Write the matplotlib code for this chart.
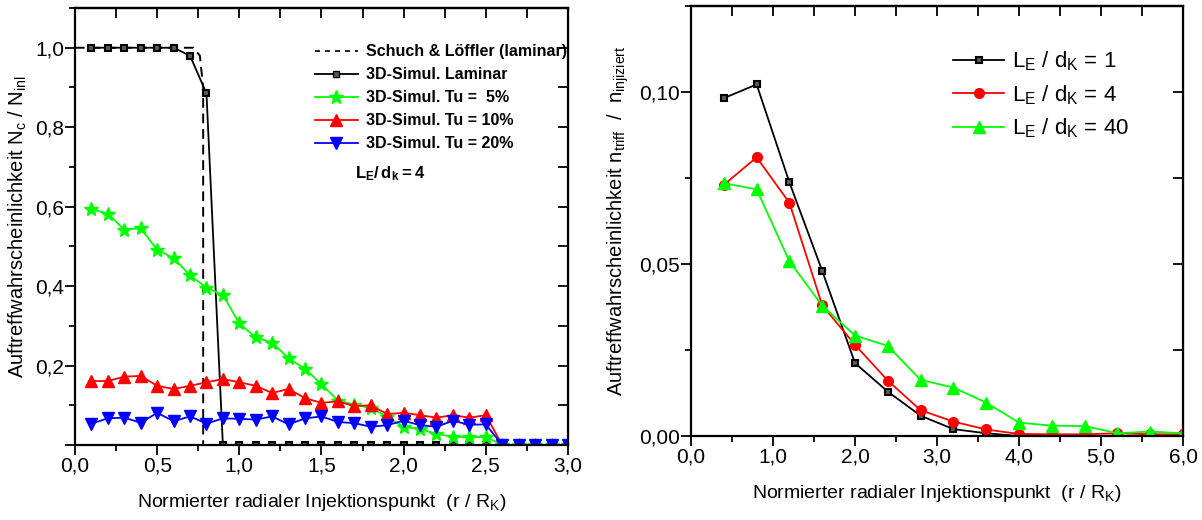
import matplotlib
matplotlib.use('Agg')
import matplotlib.pyplot as plt
from matplotlib.ticker import MultipleLocator
from matplotlib.lines import Line2D

plt.rcParams['font.family'] = ['Liberation Sans', 'DejaVu Sans']
plt.rcParams['mathtext.fontset'] = 'custom'
plt.rcParams['mathtext.rm'] = 'Liberation Sans'
plt.rcParams['mathtext.bf'] = 'Liberation Sans:bold'

# ---- left panel data (r / R_K) ----
xLeft = [round(0.1 * i, 1) for i in range(1, 31)]
laminar = [1.0, 1.0, 1.0, 1.0, 1.0, 1.0, 0.98, 0.885] + [0.0] * 22
tu5 = [0.594, 0.582, 0.542, 0.546, 0.491, 0.471, 0.427, 0.396, 0.378, 0.306,
       0.271, 0.258, 0.218, 0.192, 0.153, 0.112, 0.101, 0.094, 0.071, 0.046,
       0.040, 0.028, 0.021, 0.019, 0.021, 0.0, 0.0, 0.0, 0.0, 0.0]
tu10 = [0.161, 0.161, 0.172, 0.174, 0.149, 0.141, 0.149, 0.158, 0.166, 0.158,
        0.149, 0.131, 0.141, 0.118, 0.106, 0.110, 0.098, 0.100, 0.078, 0.081,
        0.075, 0.069, 0.075, 0.069, 0.075, 0.0, 0.0, 0.0, 0.0, 0.0]
tu20 = [0.054, 0.067, 0.069, 0.056, 0.081, 0.060, 0.072, 0.054, 0.067, 0.066,
        0.064, 0.072, 0.052, 0.067, 0.072, 0.058, 0.055, 0.046, 0.050, 0.061,
        0.050, 0.046, 0.061, 0.051, 0.052, 0.0, 0.0, 0.0, 0.0, 0.0]
schuchX = [0.0, 0.72, 0.76, 0.78, 0.78]
schuchY = [1.0, 1.0, 0.98, 0.9, 0.0]

# ---- right panel data ----
xRight = [0.4, 0.8, 1.2, 1.6, 2.0, 2.4, 2.8, 3.2, 3.6, 4.0, 4.4, 4.8, 5.2, 5.6, 6.0]
le1 = [0.0982, 0.1022, 0.0737, 0.0480, 0.0212, 0.0129, 0.0059, 0.0020, 0.0008,
       0.0, 0.0, 0.0, 0.0, 0.0, 0.0]
le4 = [0.0730, 0.0810, 0.0678, 0.0380, 0.0265, 0.0161, 0.0075, 0.0042, 0.0019,
       0.0006, 0.0005, 0.0005, 0.0008, 0.0005, 0.0005]
le40 = [0.0735, 0.0717, 0.0508, 0.0379, 0.0292, 0.0262, 0.0163, 0.0141, 0.0097,
        0.0039, 0.0030, 0.0029, 0.0008, 0.0013, 0.0008]

GREEN = '#00ff00'
RED = '#ff0000'
BLUE = '#0000ff'

fig = plt.figure(figsize=(12.02, 5.2), dpi=100)
ax1 = fig.add_axes([0.0624, 0.1442, 0.4101, 0.8404])
ax2 = fig.add_axes([0.5749, 0.1615, 0.4093, 0.8270])


def style_axes(ax):
    for s in ax.spines.values():
        s.set_linewidth(1.6)
    ax.tick_params(which='both', direction='out', top=False, right=False, width=1.3)
    ax.tick_params(which='major', length=7, labelsize=15, pad=1)
    ax.tick_params(which='minor', length=4)
    sec = ax.secondary_xaxis('top')
    sec.tick_params(which='both', direction='in', labeltop=False, width=1.3)
    sec.tick_params(which='major', length=7)
    sec.tick_params(which='minor', length=7)
    sec.spines['top'].set_linewidth(1.6)
    return sec


# left
sec1 = style_axes(ax1)
ax1.plot(schuchX, schuchY, '--', color='black', lw=1.4, dashes=(5, 3))
ax1.plot(xLeft, laminar, '-', color='black', lw=1.3, marker='s', ms=5,
         mfc='0.35', mec='black', mew=1.5)
ax1.plot(xLeft, tu5, '-', color=GREEN, lw=1.3, marker='*', ms=10, mec=GREEN)
ax1.plot(xLeft, tu10, '-', color=RED, lw=1.3, marker='^', ms=9, mec=RED)
ax1.plot(xLeft, tu20, '-', color=BLUE, lw=1.3, marker='v', ms=9, mec=BLUE)
ax1.set_xlim(0, 3.0)
ax1.set_ylim(0, 1.1)
ax1.xaxis.set_major_locator(MultipleLocator(0.5))
ax1.xaxis.set_minor_locator(MultipleLocator(0.25))
ax1.yaxis.set_major_locator(MultipleLocator(0.2))
ax1.yaxis.set_minor_locator(MultipleLocator(0.1))
sec1.xaxis.set_major_locator(MultipleLocator(0.5))
sec1.xaxis.set_minor_locator(MultipleLocator(0.25))
ax1.xaxis.set_major_formatter(lambda v, p: f'{v:.1f}'.replace('.', ','))
ax1.yaxis.set_major_formatter(lambda v, p: '' if v < 0.1 else f'{v:.1f}'.replace('.', ','))
secy1 = ax1.secondary_yaxis('right')
secy1.yaxis.set_major_locator(MultipleLocator(0.1))
secy1.tick_params(which='both', direction='in', labelright=False, length=7, width=1.3)
ax1.set_xlabel(r'Normierter radialer Injektionspunkt  (r / R$_\mathregular{K}$)', fontsize=14, labelpad=12)
ax1.set_ylabel(r'Auftreffwahrscheinlichkeit N$_\mathregular{c}$ / N$_\mathregular{inl}$', fontsize=14.5, labelpad=4)

h1 = [Line2D([], [], ls='--', color='black', lw=1.2, dashes=(3, 3)),
      Line2D([], [], color='black', lw=1.3, marker='s', ms=5, mfc='0.35', mec='black'),
      Line2D([], [], color=GREEN, lw=1.3, marker='*', ms=10, mec=GREEN),
      Line2D([], [], color=RED, lw=1.3, marker='^', ms=9, mec=RED),
      Line2D([], [], color=BLUE, lw=1.3, marker='v', ms=9, mec=BLUE)]
l1 = ['Schuch & Löffler (laminar)', '3D-Simul. Laminar', '3D-Simul. Tu =  5%',
      '3D-Simul. Tu = 10%', '3D-Simul. Tu = 20%']
ax1.legend(h1, l1, loc='upper left', bbox_to_anchor=(0.47, 0.935), frameon=False,
           prop={'weight': 'bold', 'size': 11.5}, handlelength=2.7, handletextpad=0.5,
           labelspacing=0.5, borderpad=0)
ax1.text(0.568, 0.62, r'$\mathbf{L_E/\,d_k = 4}$', transform=ax1.transAxes,
         fontsize=12, va='center')

# right
sec2 = style_axes(ax2)
ax2.plot(xRight, le1, '-', color='black', lw=1.3, marker='s', ms=5,
         mfc='0.35', mec='black', mew=1.5, label=r'L$_\mathregular{E}$ / d$_\mathregular{K}$ = 1')
ax2.plot(xRight, le4, '-', color=RED, lw=1.3, marker='o', ms=7, mec=RED,
         label=r'L$_\mathregular{E}$ / d$_\mathregular{K}$ = 4')
ax2.plot(xRight, le40, '-', color=GREEN, lw=1.3, marker='^', ms=9, mec=GREEN,
         label=r'L$_\mathregular{E}$ / d$_\mathregular{K}$ = 40')
ax2.set_xlim(0, 6.0)
ax2.set_ylim(0, 0.125)
ax2.xaxis.set_major_locator(MultipleLocator(1.0))
ax2.xaxis.set_minor_locator(MultipleLocator(0.5))
ax2.yaxis.set_major_locator(MultipleLocator(0.05))
ax2.yaxis.set_minor_locator(MultipleLocator(0.025))
sec2.xaxis.set_major_locator(MultipleLocator(0.5))
ax2.xaxis.set_major_formatter(lambda v, p: f'{v:.1f}'.replace('.', ','))
ax2.yaxis.set_major_formatter(lambda v, p: f'{v:.2f}'.replace('.', ','))
secy2 = ax2.secondary_yaxis('right')
secy2.yaxis.set_major_locator(MultipleLocator(0.025))
secy2.tick_params(which='both', direction='in', labelright=False, length=7, width=1.3)
ax2.set_xlabel(r'Normierter radialer Injektionspunkt  (r / R$_\mathregular{K}$)', fontsize=14, labelpad=12)
ax2.set_ylabel(r'Auftreffwahrscheinlichkeit n$_\mathregular{triff}$  /  n$_\mathregular{injiziert}$', fontsize=14.5, labelpad=6)
ax2.legend(loc='upper left', bbox_to_anchor=(0.51, 0.925), frameon=False,
           fontsize=16, handlelength=2.3, handletextpad=0.35, labelspacing=0.45, borderpad=0)

fig.savefig('out.png', dpi=100)
